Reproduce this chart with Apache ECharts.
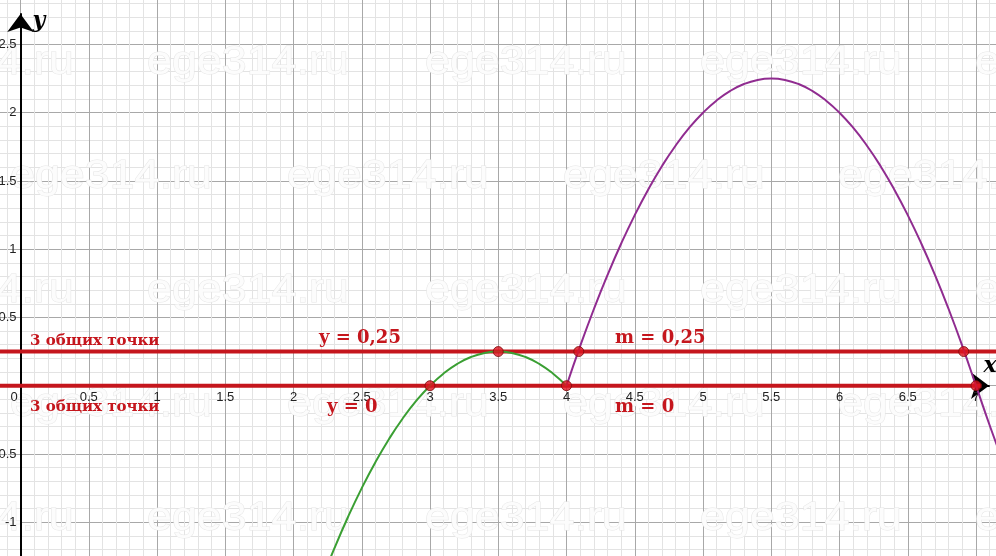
<!DOCTYPE html>
<html><head><meta charset="utf-8">
<script src="https://cdn.jsdelivr.net/npm/echarts@6/dist/echarts.min.js"></script>
<style>html,body{margin:0;padding:0;background:#fff;overflow:hidden}#c{width:996px;height:556px}</style>
</head><body><div id="c"></div>
<script>
// values
const greenX = [2.2,2.3,2.4,2.5,2.6,2.7,2.8,2.9,3.0,3.1,3.2,3.3,3.4,3.5,3.6,3.7,3.8,3.9,4.0];
const greenY = [-1.44,-1.19,-0.96,-0.75,-0.56,-0.39,-0.24,-0.11,0,0.09,0.16,0.21,0.24,0.25,0.24,0.21,0.16,0.09,0];
const purpleX = [4.0,4.1,4.2,4.3,4.4,4.5,4.6,4.7,4.8,4.9,5.0,5.1,5.2,5.3,5.4,5.5,5.6,5.7,5.8,5.9,6.0,6.1,6.2,6.3,6.4,6.5,6.6,6.7,6.8,6.9,7.0,7.1,7.2,7.3];
const purpleY = [0,0.29,0.56,0.81,1.04,1.25,1.44,1.61,1.76,1.89,2.0,2.09,2.16,2.21,2.24,2.25,2.24,2.21,2.16,2.09,2.0,1.89,1.76,1.61,1.44,1.25,1.04,0.81,0.56,0.29,0,-0.29,-0.56,-0.81];
const levelY = [0, 0.25];
const levelStartX = [-0.5, -0.5];
const levelEndX = [7.04, 7.5];
const pointsX = [3, 3.5, 4, 4.09, 6.91, 7];
const pointsY = [0, 0.25, 0, 0.25, 0.25, 0];
const noteTexts = ['3 общих точки', '3 общих точки', 'y = 0,25', 'y = 0', 'm = 0,25', 'm = 0'];
const watermark = 'ege314.ru';

const chart = echarts.init(document.getElementById('c'), null, {renderer: 'canvas'});
const RED = '#c5161d';
const labelFont = {color: '#222', fontSize: 13, fontFamily: 'Liberation Sans, Arial, sans-serif'};

const zip = (a, b) => a.map((v, i) => [v, b[i]]);

// watermark graphics
const wm = [];
const rowsY = [63, 177, 291, 405, 519];
const startsA = [-128, 147, 425, 700, 975];
const startsB = [10, 287, 563, 838];
rowsY.forEach((y, r) => {
  (r % 2 === 0 ? startsA : startsB).forEach(x => {
    wm.push({type: 'text', x: x, y: y, z: 1, scaleX: 1.12, silent: true,
      style: {text: watermark, font: '40px "Liberation Sans", Arial, sans-serif', fill: '#fcfcfc',
        stroke: '#e6e6e6', lineWidth: 1, verticalAlign: 'middle', align: 'left'}});
  });
});
const notePos = [[30, 341, 15], [30, 407, 15], [319, 338, 18], [327, 407, 18], [615, 338, 18], [615, 407, 18]];
const notes = noteTexts.map((t, i) => ({type: 'text', x: notePos[i][0], y: notePos[i][1], z: 20, silent: true,
  style: {text: t, font: 'bold ' + notePos[i][2] + 'px "DejaVu Serif", serif', fill: RED,
    verticalAlign: 'middle', align: 'left'}}));
const axisNames = [
  {type: 'text', x: 39, y: 21, z: 20, style: {text: 'y', font: 'italic bold 22px "DejaVu Serif", serif', fill: '#000', align: 'center', verticalAlign: 'middle'}},
  {type: 'text', x: 990, y: 366, z: 20, style: {text: 'x', font: 'italic bold 22px "DejaVu Serif", serif', fill: '#000', align: 'center', verticalAlign: 'middle'}}
];
const noAxis = {axisLine: {show: false}, axisTick: {show: false}, axisLabel: {show: false}, splitLine: {show: false}};
const gridBase = {containLabel: false, outerBoundsMode: 'none'};

const option = {
  animation: false,
  backgroundColor: '#fff',
  grid: [
    Object.assign({left: -47.75, right: -48.25, top: -23.8, bottom: -34.45}, gridBase),
    Object.assign({left: 0, right: 7, top: 14, bottom: 0}, gridBase),
    Object.assign({left: 20.5, right: 20, top: 44.45, bottom: 170.3}, gridBase),
    Object.assign({left: 20.5, right: 20, top: 385.7, bottom: 33.8}, gridBase)
  ],
  xAxis: [
    {gridIndex: 0, type: 'value', min: -0.5, max: 7.5, interval: 0.5,
      axisLine: {show: false}, axisTick: {show: false}, axisLabel: {show: false},
      minorTick: {show: false, splitNumber: 5},
      splitLine: {show: true, lineStyle: {color: '#a8a8a8', width: 1}},
      minorSplitLine: {show: true, lineStyle: {color: '#e3e3e3', width: 1}}},
    {gridIndex: 1, type: 'value', min: -0.15018, max: 7.0952, z: 2,
      axisLine: {show: true, onZero: true, symbol: ['none', 'arrow'], symbolSize: [20, 18], lineStyle: {color: '#000', width: 2}},
      axisTick: {show: false}, axisLabel: {show: false}, splitLine: {show: false}},
    {gridIndex: 2, type: 'value', min: 0, max: 7, interval: 0.5, position: 'bottom', z: 3,
      axisLine: {show: false, onZero: false}, axisTick: {show: false}, splitLine: {show: false},
      axisLabel: Object.assign({margin: 5, showMinLabel: true, showMaxLabel: true,
        formatter: v => v === 0 ? '{z|0}' : String(v),
        rich: {z: Object.assign({padding: [0, 13, 0, 0]}, labelFont)}}, labelFont)},
    Object.assign({gridIndex: 3, type: 'value', min: 0, max: 7}, noAxis)
  ],
  yAxis: [
    {gridIndex: 0, type: 'value', min: -1.5, max: 3, interval: 0.5,
      axisLine: {show: false}, axisTick: {show: false}, axisLabel: {show: false},
      minorTick: {show: false, splitNumber: 5},
      splitLine: {show: true, lineStyle: {color: '#a8a8a8', width: 1}},
      minorSplitLine: {show: true, lineStyle: {color: '#e3e3e3', width: 1}}},
    {gridIndex: 1, type: 'value', min: -1.2476, max: 2.7231, z: 2,
      axisLine: {show: true, onZero: true, symbol: ['none', 'arrow'], symbolSize: [20, 18], lineStyle: {color: '#000', width: 2}},
      axisTick: {show: false}, axisLabel: {show: false}, splitLine: {show: false}},
    {gridIndex: 2, type: 'value', min: 0, max: 2.5, interval: 0.5, position: 'left', z: 3,
      axisLine: {show: false, onZero: false}, axisTick: {show: false}, splitLine: {show: false},
      axisLabel: Object.assign({margin: 4, showMinLabel: true, showMaxLabel: true,
        formatter: v => v === 0 ? '' : String(v)}, labelFont)},
    {gridIndex: 3, type: 'value', min: -1, max: 0, interval: 0.5, position: 'left', z: 3,
      axisLine: {show: false, onZero: false}, axisTick: {show: false}, splitLine: {show: false},
      axisLabel: Object.assign({margin: 4, showMinLabel: true, showMaxLabel: true,
        formatter: v => v === 0 ? '' : String(v)}, labelFont)}
  ],
  graphic: {elements: wm.concat(notes, axisNames)},
  series: [
    ...levelY.map((y, i) => ({type: 'line', xAxisIndex: 0, yAxisIndex: 0, z: 3, silent: true,
      data: [[levelStartX[i], y], [levelEndX[i], y]], symbol: 'none',
      lineStyle: {color: RED, width: 4}})),
    {type: 'line', xAxisIndex: 0, yAxisIndex: 0, z: 4, data: zip(greenX, greenY), smooth: true, symbol: 'none',
      lineStyle: {color: '#3a9f33', width: 2}},
    {type: 'line', xAxisIndex: 0, yAxisIndex: 0, z: 4, data: zip(purpleX, purpleY), smooth: true, symbol: 'none',
      lineStyle: {color: '#902c90', width: 2}},
    {type: 'scatter', xAxisIndex: 0, yAxisIndex: 0, z: 6, data: zip(pointsX, pointsY), symbolSize: 10,
      itemStyle: {color: '#dd1420', borderColor: '#7a0a0a', borderWidth: 1}}
  ]
};
chart.setOption(option);
</script></body></html>
